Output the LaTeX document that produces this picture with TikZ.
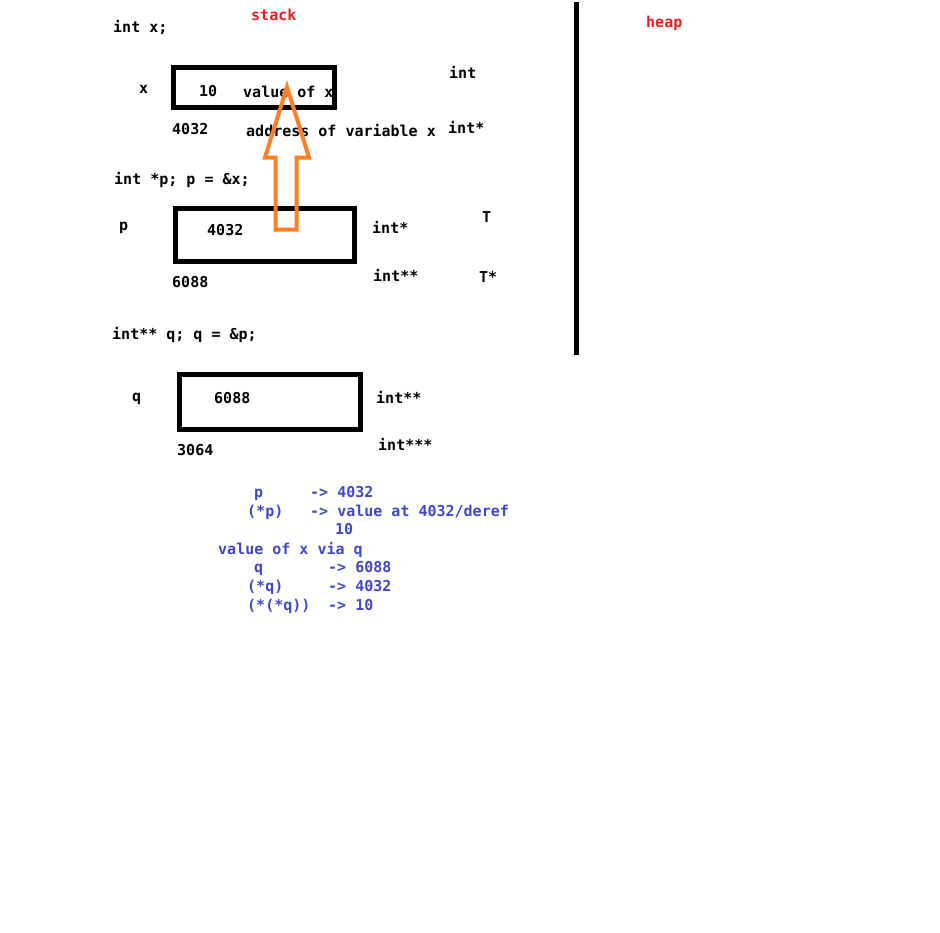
\documentclass[tikz,border=0pt]{standalone}
\usepackage{fontspec}
\setmonofont{DejaVu Sans Mono}
\definecolor{paintred}{HTML}{ED1C24}
\definecolor{paintblue}{HTML}{3F48CC}
\definecolor{paintorange}{HTML}{FF7F27}
\begin{document}
\begin{tikzpicture}[x=1pt,y=-1pt,
  lbl/.style={anchor=base west, inner sep=0pt, font=\fontsize{15}{18}\selectfont\ttfamily\bfseries, text=black},
  redlbl/.style={lbl, text=paintred},
  bluelbl/.style={lbl, text=paintblue},
  cell/.style={draw=black, line width=5pt, inner sep=0pt, minimum width=#1},
  divider/.style={line width=5pt, draw=black},
  bigarrow/.style={draw=paintorange, line width=4pt, line join=miter}
]
\useasboundingbox (0,0) rectangle (940,932);
\fill[white] (0,0) rectangle (940,932);

% memory cells
\node[cell=161pt, minimum height=40pt] (boxX) at (254,87.5) {};
\node[cell=179pt, minimum height=53pt] (boxP) at (265,235) {};
\node[cell=181pt, minimum height=55pt] (boxQ) at (270,402) {};

% stack / heap divider
\coordinate (divtop) at (576.5,2);
\coordinate (divbot) at (576.5,355);
\draw[divider] (divtop) -- (divbot);

% headers
\node[redlbl] (stack) at (251,20) {stack};
\node[redlbl] (heap) at (646,27) {heap};

% x section
\node[lbl] (declx) at (113,32) {int x;};
\node[lbl] (namex) at (139,93) {x};
\node[lbl] (valx) at (199,96) {10};
\node[lbl] (valofx) at (243,97) {value of x};
\node[lbl] (tint) at (449,78) {int};
\node[lbl] (addrx) at (172,134) {4032};
\node[lbl] (addrofx) at (246,136) {address of variable x};
\node[lbl] (tintp) at (448,133) {int*};

% p section
\node[lbl] (declp) at (114,184) {int *p; p = \&x;};
\node[lbl] (namep) at (119,230) {p};
\node[lbl] (valp) at (207,235) {4032};
\node[lbl] (tintp2) at (372,233) {int*};
\node[lbl] (tT) at (482,222) {T};
\node[lbl] (tintpp) at (373,281) {int**};
\node[lbl] (tTp) at (479,282) {T*};
\node[lbl] (addrp) at (172,287) {6088};

% q section
\node[lbl] (declq) at (112,339) {int** q; q = \&p;};
\node[lbl] (nameq) at (132,401) {q};
\node[lbl] (valq) at (214,403) {6088};
\node[lbl] (tintpp2) at (376,403) {int**};
\node[lbl] (addrq) at (177,455) {3064};
\node[lbl] (tintppp) at (378,450) {int***};

% blue notes
\node[bluelbl] (n1a) at (254,497) {p};
\node[bluelbl] (n1b) at (310,497) {-> 4032};
\node[bluelbl] (n2a) at (247,516) {(*p)};
\node[bluelbl] (n2b) at (310,516) {-> value at 4032/deref};
\node[bluelbl] (n3) at (335,534) {10};
\node[bluelbl] (n4) at (218,554) {value of x via q};
\node[bluelbl] (n5a) at (254,572) {q};
\node[bluelbl] (n5b) at (328,572) {-> 6088};
\node[bluelbl] (n6a) at (247,591) {(*q)};
\node[bluelbl] (n6b) at (328,591) {-> 4032};
\node[bluelbl] (n7a) at (247,610) {(*(*q))};
\node[bluelbl] (n7b) at (328,610) {-> 10};

% orange block arrow
\draw[bigarrow] (287,87) -- (309,157.5) -- (296.5,157.5) -- (296.5,229.5)
  -- (275.5,229.5) -- (275.5,157.5) -- (265,157.5) -- cycle;
\end{tikzpicture}
\end{document}
